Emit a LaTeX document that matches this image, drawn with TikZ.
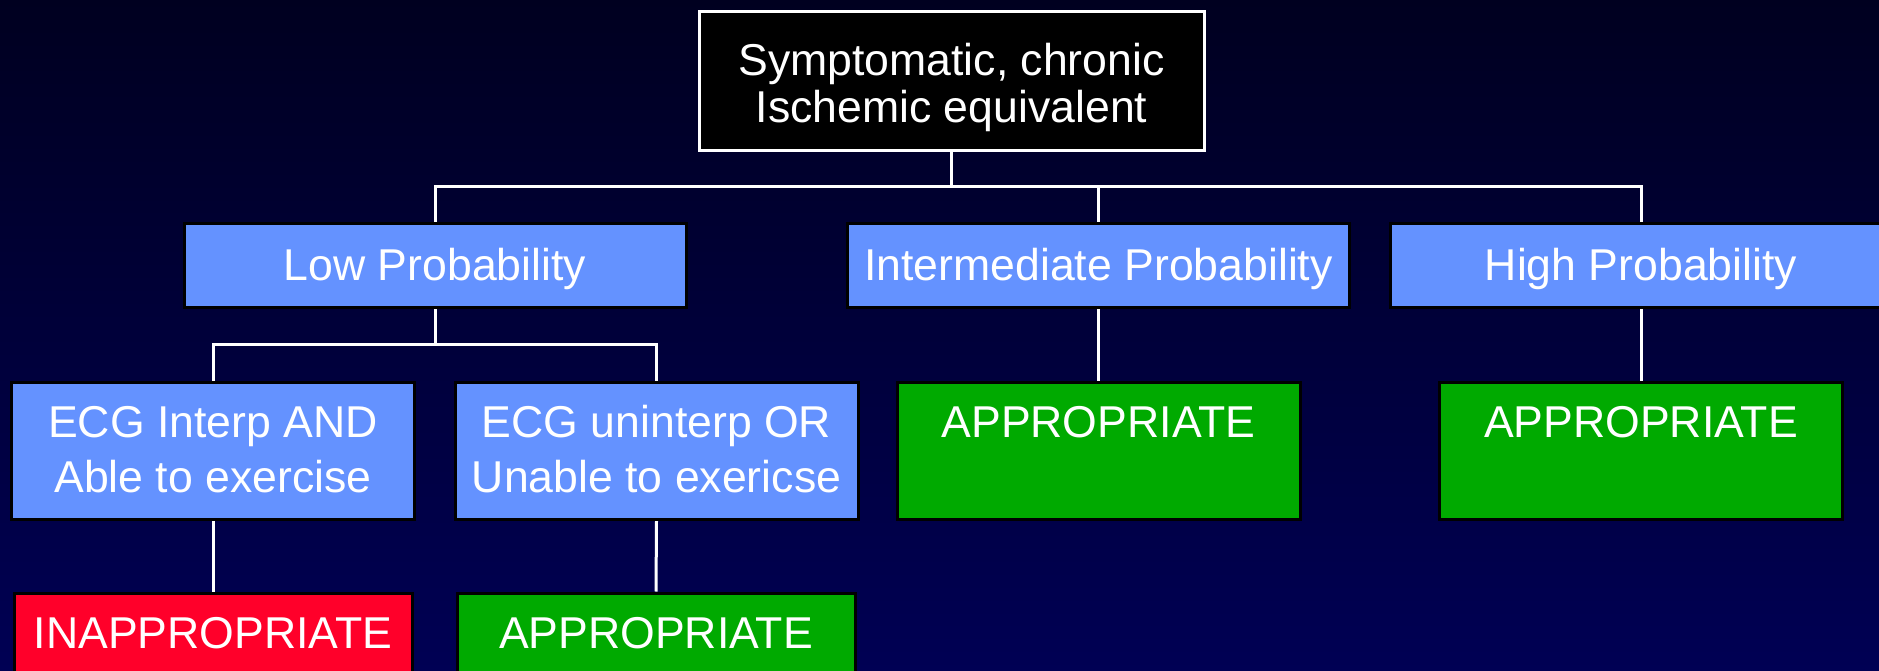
\documentclass[tikz,border=0pt]{standalone}
\usepackage{fontspec}
\setmainfont{Liberation Sans}
\usetikzlibrary{backgrounds}

\definecolor{bgtop}{RGB}{0,0,32}
\definecolor{bgbottom}{RGB}{0,0,84}
\definecolor{probblue}{RGB}{100,146,255}
\definecolor{okgreen}{RGB}{0,170,0}
\definecolor{badred}{RGB}{255,0,42}

\newcommand{\boxlines}[2]{\begin{tabular}[t]{@{}c@{}}#1\\#2\end{tabular}}

\tikzset{
  box/.style={rectangle, inner sep=0pt, line width=3pt, draw=black},
  rootbox/.style={box, draw=white, fill=black},
  probbox/.style={box, fill=probblue, minimum width=502pt, minimum height=83pt},
  testbox/.style={box, fill=probblue, minimum width=403pt, minimum height=137pt},
  okbox/.style={box, fill=okgreen, minimum width=403pt, minimum height=137pt},
  badbox/.style={box, fill=badred, minimum width=398pt, minimum height=137pt},
  txt/.style={anchor=base, inner sep=0pt, text=white, font=\fontsize{44.6}{55}\selectfont},
  link/.style={draw=white, line width=3pt}
}

\begin{document}
\begin{tikzpicture}[x=1pt, y=-1pt]
  \useasboundingbox (0,0) rectangle (1879,671);

  % boxes
  \node[rootbox, minimum width=505pt, minimum height=139pt] (root) at (951.5,81.5) {};
  \node[probbox] (low)  at (435,265.5) {};
  \node[probbox] (mid)  at (1098.5,265.5) {};
  \node[probbox] (high) at (1641,265.5) {};
  \node[testbox] (ecgA) at (213,450.5) {};
  \node[testbox] (ecgB) at (656.5,450.5) {};
  \node[okbox]   (appMid)  at (1098.5,450.5) {};
  \node[okbox]   (appHigh) at (1641,450.5) {};
  \node[badbox]  (inapp)  at (213,661.5) {};
  \node[okbox, minimum width=398pt] (appLow) at (656,661.5) {};

  % texts
  \node[txt, font=\fontsize{44.6}{47}\selectfont] (rootText) at (951.5,76)
    {\boxlines{Symptomatic, chronic}{Ischemic equivalent}};
  \node[txt] (lowText)  at (435,280)    {Low Probability};
  \node[txt] (midText)  at (1098.5,280) {Intermediate Probability};
  \node[txt] (highText) at (1641,280)   {High Probability};
  \node[txt] (ecgAText) at (213,437)    {\boxlines{ECG Interp AND}{Able to exercise}};
  \node[txt] (ecgBText) at (656.5,437)  {\boxlines{ECG uninterp OR}{Unable to exericse}};
  \node[txt] (appMidText)  at (1098.5,437) {APPROPRIATE};
  \node[txt] (appHighText) at (1641,437)   {APPROPRIATE};
  \node[txt] (inappText)   at (213,648)    {INAPPROPRIATE};
  \node[txt] (appLowText)  at (656,648)    {APPROPRIATE};

  \begin{scope}[on background layer]
    \shade[top color=bgtop, bottom color=bgbottom] (0,0) rectangle (1879,671);

    % tree connectors
    \coordinate (bus1) at (951.5,187);
    \coordinate (bus2) at (435,344);
    \draw[link] (root.south) -- (bus1);
    \draw[link] (low.north) |- (bus1);
    \draw[link] (high.north) |- (bus1);
    \draw[link] (mid.north) -- (mid.north |- bus1);
    \draw[link] (low.south) -- (bus2);
    \draw[link] (ecgA.north) |- (bus2);
    \draw[link] (ecgB.north) |- (bus2);
    \draw[link] (mid.south) -- (appMid.north);
    \draw[link] (high.south) -- (appHigh.north);
    \draw[link] (ecgA.south) -- (inapp.north);
    \draw[link] (ecgB.south) -- (appLow.north);
  \end{scope}
\end{tikzpicture}
\end{document}
